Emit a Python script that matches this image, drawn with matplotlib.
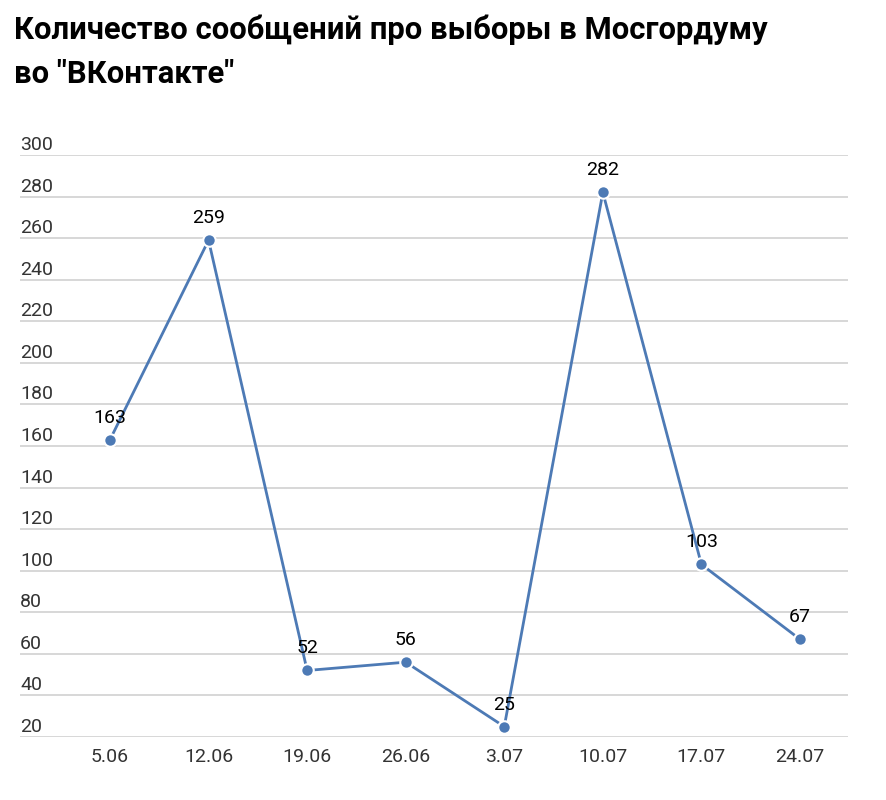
import matplotlib.pyplot as plt
from matplotlib.transforms import offset_copy

plt.rcParams["font.family"] = ["Roboto", "DejaVu Sans"]

dates = ["5.06", "12.06", "19.06", "26.06", "3.07", "10.07", "17.07", "24.07"]
messages = [163, 259, 52, 56, 25, 282, 103, 67]
y_ticks = list(range(20, 301, 20))

LINE_COLOR = "#4d7ab5"
GRID_COLOR = "#d4d4d4"
TEXT_COLOR = "#333333"

W, H = 887, 800
fig = plt.figure(figsize=(W / 100, H / 100), dpi=100)

# plot area in pixels: gridlines run from x=20 to x=848, y=155 (300) to y=737 (20)
ax = fig.add_axes([20 / W, 1 - 737 / H, (848 - 20) / W, (737 - 155) / H])

xs = list(range(len(dates)))
step = 98.6
ax.set_xlim(-(110 - 20) / step, len(dates) - 1 + (848 - 800) / step)
ax.set_ylim(y_ticks[0], y_ticks[-1])

for t in y_ticks:
    ax.axhline(t, color=GRID_COLOR, linewidth=1.3, zorder=0)

ax.plot(
    xs,
    messages,
    color=LINE_COLOR,
    linewidth=2,
    marker="o",
    markersize=9,
    markerfacecolor=LINE_COLOR,
    markeredgecolor="white",
    markeredgewidth=1.5,
    zorder=3,
    clip_on=False,
)

for x, v in zip(xs, messages):
    ax.annotate(
        str(v),
        (x, v),
        xytext=(0, 17),
        textcoords="offset pixels",
        ha="center",
        va="baseline",
        fontsize=14,
        color="black",
    )

label_tr = offset_copy(ax.get_yaxis_transform(), fig=fig, x=0, y=5, units="dots")
for t in y_ticks:
    ax.text(0, t, str(t), transform=label_tr, ha="left", va="baseline",
            fontsize=14, color=TEXT_COLOR)

ax.set_xticks(xs)
ax.set_xticklabels(dates, fontsize=14, color=TEXT_COLOR)
ax.set_yticks([])
ax.tick_params(axis="x", length=0, pad=8)
for side in ["top", "right", "left", "bottom"]:
    ax.spines[side].set_visible(False)

fig.text(14 / W, 1 - 30 / H, "Количество сообщений про выборы в Мосгордуму",
         fontsize=22.3, fontweight="bold", color="black", ha="left", va="center")
fig.text(14 / W, 1 - 74 / H, 'во "ВКонтакте"',
         fontsize=22.3, fontweight="bold", color="black", ha="left", va="center")

fig.savefig("out.png", dpi=100, facecolor="white")
